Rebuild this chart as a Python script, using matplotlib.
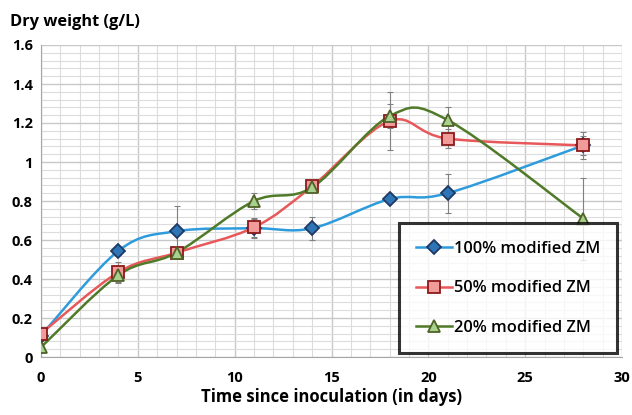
import numpy as np
import matplotlib
matplotlib.use("Agg")
import matplotlib.pyplot as plt
from matplotlib.path import Path
from matplotlib.patches import PathPatch

plt.rcParams['font.family'] = ['Open Sans', 'DejaVu Sans']

days = [0, 4, 7, 11, 14, 18, 21, 28]
zm100 = [0.11, 0.545, 0.645, 0.66, 0.66, 0.81, 0.84, 1.085]
zm50 = [0.12, 0.435, 0.535, 0.665, 0.875, 1.21, 1.12, 1.085]
zm20 = [0.05, 0.42, 0.535, 0.80, 0.87, 1.235, 1.215, 0.71]
err100 = [0.0, 0.02, 0.13, 0.05, 0.06, 0.0, 0.10, 0.05]
err50 = [0.0, 0.05, 0.0, 0.05, 0.0, 0.15, 0.05, 0.07]
err20 = [0.0, 0.04, 0.0, 0.04, 0.0, 0.06, 0.065, 0.21]
labels = ["100% modified ZM", "50% modified ZM", "20% modified ZM"]


def smooth_path(x, y):
    # excel style smoothed line: bezier with control points from neighbours
    x = np.asarray(x, float); y = np.asarray(y, float)
    n = len(x)
    verts = [(x[0], y[0])]
    codes = [Path.MOVETO]
    for i in range(n - 1):
        p0 = np.array([x[max(i - 1, 0)], y[max(i - 1, 0)]])
        p1 = np.array([x[i], y[i]])
        p2 = np.array([x[i + 1], y[i + 1]])
        p3 = np.array([x[min(i + 2, n - 1)], y[min(i + 2, n - 1)]])
        c1 = p1 + (p2 - p0) / 6
        c2 = p2 - (p3 - p1) / 6
        verts += [tuple(c1), tuple(c2), tuple(p2)]
        codes += [Path.CURVE4] * 3
    return Path(verts, codes)


fig = plt.figure(figsize=(6.32, 4.15), dpi=100)
ax = fig.add_axes([41 / 632, 1 - 357 / 415, 581 / 632, 312 / 415])

ax.set_xlim(0, 30)
ax.set_ylim(0, 1.6)
ax.set_xticks(np.arange(0, 31, 5))
ax.set_yticks(np.arange(0, 1.61, 0.2))
ax.set_yticklabels(["0", "0.2", "0.4", "0.6", "0.8", "1", "1.2", "1.4", "1.6"])
ax.set_xticks(np.arange(0, 31, 1), minor=True)
ax.set_yticks(np.arange(0, 1.61, 0.04), minor=True)
ax.grid(which='major', color='#c8c8c8', lw=1.0)
ax.grid(which='minor', color='#dcdcdc', lw=0.8)
ax.set_axisbelow(True)
for s in ax.spines.values():
    s.set_visible(False)
ax.spines['left'].set_visible(True)
ax.spines['bottom'].set_visible(True)
ax.spines['left'].set_color('#a6a6a6')
ax.spines['bottom'].set_color('#a6a6a6')
ax.tick_params(which='both', length=0)
ax.tick_params(axis='x', pad=10)
ax.tick_params(axis='y', pad=6)
for t in ax.get_xticklabels() + ax.get_yticklabels():
    t.set_fontweight('bold')
    t.set_fontsize(10.5)

series = [
    (zm100, err100, '#2e9bdc', 'D', '#2e75b6', '#1f3864', 7),
    (zm50, err50, '#e8585a', 's', '#f29b9b', '#8b1a1a', 8.5),
    (zm20, err20, '#4f7a28', '^', '#a9d18e', '#4f6228', 9),
]
handles = []
for (vals, err, lc, mk, fc, ec, ms), lab in zip(series, labels):
    ax.add_patch(PathPatch(smooth_path(days, vals), fill=False, ec=lc, lw=1.8, zorder=3))
    ax.errorbar(days, vals, yerr=err, fmt='none', ecolor='#808080', elinewidth=0.8,
                capsize=2.5, capthick=0.8, zorder=2)
    ax.plot(days, vals, ls='none', marker=mk, ms=ms, mfc=fc, mec=ec, mew=1.3, zorder=4)
    h, = ax.plot([], [], color=lc, lw=1.8, marker=mk, ms=ms, mfc=fc, mec=ec, mew=1.3, label=lab)
    handles.append(h)

leg = ax.legend(handles=handles, loc='lower right', bbox_to_anchor=(0.992, 0.012),
                frameon=True, fancybox=False, edgecolor='black', fontsize=11.8,
                handlelength=2.2, handletextpad=0.1, labelspacing=1.45,
                borderpad=1.05, borderaxespad=0)
leg.get_frame().set_linewidth(2.2)
for t in leg.get_texts():
    t.set_fontweight('semibold')
leg.set_zorder(10)

fig.text(10 / 632, 1 - 22 / 415, "Dry weight (g/L)", fontsize=11.8, fontweight='bold',
         va='center', ha='left')
ax.set_xlabel("Time since inoculation (in days)", fontsize=12, fontweight='bold', labelpad=2)

fig.savefig("out.png", dpi=100, facecolor='white')
